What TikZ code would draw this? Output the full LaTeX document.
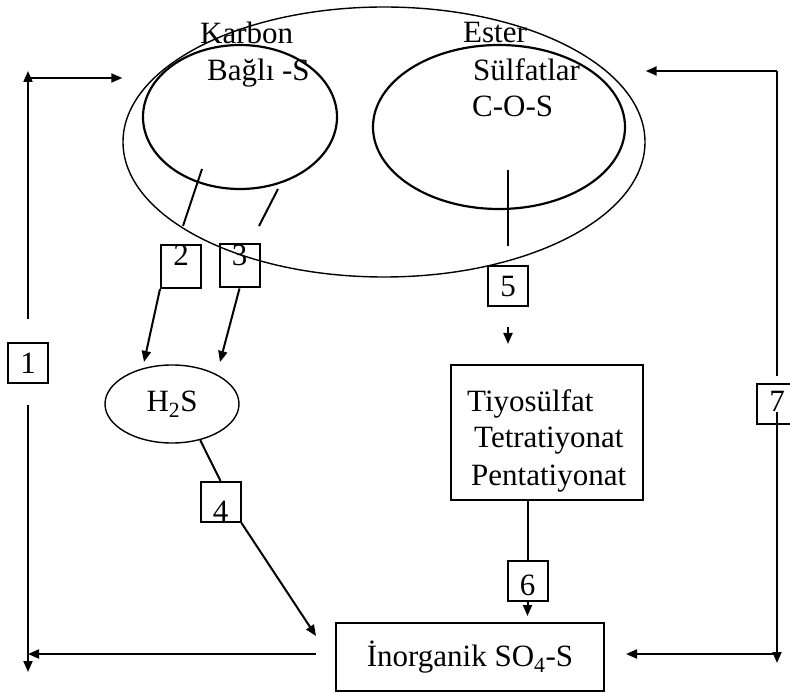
\documentclass[tikz,border=0pt]{standalone}
\usepackage{fontspec}
\setmainfont{Liberation Serif}
\usetikzlibrary{arrows.meta,shapes.geometric}
\tikzstyle{pool} = [draw, ellipse, line width=1.4pt, inner sep=0pt]
\tikzstyle{numbox} = [
  draw,
  line width=2pt,
  minimum width=40pt,
  minimum height=40pt,
  inner sep=0pt,
  text height=21pt,
  text depth=0pt,
]
\tikzstyle{link} = [line width=2pt]
\tikzstyle{flow} = [line width=2pt, -{Triangle[length=11pt,width=9pt]}]
\tikzstyle{lbl} = [anchor=base west, inner sep=0pt]

\begin{document}
\begin{tikzpicture}[x=1pt, y=-1pt, font=\fontsize{31}{37}\selectfont]
  \useasboundingbox (0,0) rectangle (790,692);

  % Pools
  \node[pool, minimum width=522pt, minimum height=270pt] (soil) at (384,142) {};
  \node[pool, line width=2.2pt, minimum width=194pt, minimum height=144pt] (karbon) at (240,117) {};
  \node[pool, line width=2.2pt, minimum width=252pt, minimum height=164pt] (ester) at (499,127) {};
  \node[pool, minimum width=134pt, minimum height=78pt] (h2s) at (172,404) {H\textsubscript{2}S};

  % Labels
  \node[lbl] (karbonA) at (200,44) {Karbon};
  \node[lbl] (karbonB) at (207,81) {Bağlı -S};
  \node[lbl] (esterA) at (463,43) {Ester};
  \node[lbl] (esterB) at (473,81) {Sülfatlar};
  \node[lbl] (esterC) at (472,117) {C-O-S};

  % Boxes
  \node[draw, line width=2pt, minimum width=192pt, minimum height=135pt] (tiyo) at (547,432.5) {};
  \node[lbl] (tiyoA) at (467,412) {Tiyosülfat};
  \node[lbl] (tiyoB) at (474,448) {Tetratiyonat};
  \node[lbl] (tiyoC) at (471,485) {Pentatiyonat};
  \node[draw, line width=2pt, minimum width=268pt, minimum height=68pt] (inorg) at (470,657) {İnorganik SO\textsubscript{4}-S};

  % Numbered steps
  \node[numbox] (b1) at (28,363.5) {1};
  \node[numbox, text depth=22pt] (b2) at (181,266.5) {2};
  \node[numbox, text depth=22pt] (b3) at (239.5,266) {3};
  \node[numbox, text height=39pt] (b4) at (220.5,502) {4};
  \node[numbox] (b5) at (508,286.5) {5};
  \node[numbox, text height=30pt] (b6) at (527.5,580.5) {6};
  \node[numbox, text depth=6pt] (b7) at (777,404.5) {7};

  % Free ends
  \coordinate (k2a) at (202,169);
  \coordinate (k2b) at (183,226);
  \coordinate (k3a) at (278,189);
  \coordinate (k3b) at (259,226);
  \coordinate (t2) at (144,362);
  \coordinate (t3) at (220,362);
  \coordinate (t4) at (316,636);
  \coordinate (e5a) at (508,170);
  \coordinate (e5b) at (508,246);
  \coordinate (ltip) at (28,71);
  \coordinate (ltop) at (28,78);
  \coordinate (lmid) at (28,654);
  \coordinate (lbot) at (28,672);
  \coordinate (rtop) at (777,71);
  \coordinate (rmid) at (777,654);
  \coordinate (rbot) at (777,663);

  % Carbon bonded S
  \draw[link] (k2a) -- (k2b);
  \draw[link] (k3a) -- (k3b);
  \draw[flow] (b2.south west) -- (t2);
  \draw[flow] (b3.south) -- (t3);
  \draw[link] (h2s.-52) -- (b4.north);
  \draw[flow] (b4.south east) -- (t4);

  % Ester sulfates
  \draw[link] (e5a) -- (e5b);
  \draw[flow, shorten <=20pt, shorten >=20pt] (b5.south) -- (b5.south |- tiyo.north);
  \draw[link] (tiyo.south -| b6) -- (b6.north);
  \draw[flow, shorten >=6pt] (b6.south) -- (b6.south |- inorg.north);

  % Loop 1
  \draw[flow, shorten <=19pt] (inorg.west |- lmid) -- (lmid);
  \draw[flow, shorten <=21pt] (b1.south) -- (lbot);
  \draw[flow, shorten <=23pt] (b1.north) -- (ltip);
  \draw[flow] (ltop) -- (ltop -| soil.west);

  % Loop 7
  \draw[link, shorten <=7pt] (b7.north) -- (rtop);
  \draw[flow] (rtop) -- (rtop -| soil.east);
  \draw[flow] ([yshift=-8pt]b7.center) -- (rbot);
  \draw[flow, shorten >=21pt] (rmid) -- (rmid -| inorg.east);
\end{tikzpicture}
\end{document}
